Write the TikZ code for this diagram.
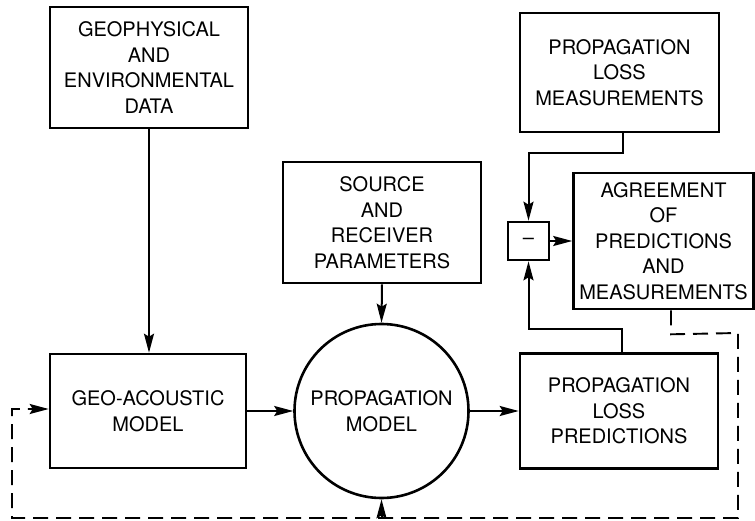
\documentclass[tikz,border=0pt]{standalone}
\usepackage{fontspec}
\setmainfont{TeX Gyre Heros}
\usetikzlibrary{arrows.meta,shapes.geometric}
\begin{document}
\begin{tikzpicture}[x=1pt,y=-1pt,
  box/.style={draw,line width=2.6pt,align=center,inner sep=0pt,
    font=\fontsize{20}{25.5}\selectfont},
  rnd/.style={draw,circle,line width=2.6pt,align=center,inner sep=0pt,
    font=\fontsize{20}{25.5}\selectfont},
  tip/.style={-{Stealth[length=19pt,width=10pt,inset=3pt]}},
  arr/.style={line width=2pt,tip},
  dsh/.style={line width=1.9pt,dash pattern=on 15pt off 8pt}]
\useasboundingbox (0,0) rectangle (755,521);
\node[box,minimum width=198pt,minimum height=121pt] (geo) at (149,67.5)
  {GEOPHYSICAL\\AND\\ENVIRONMENTAL\\DATA};
\node[box,minimum width=196pt,minimum height=114pt] (ga) at (148,411)
  {GEO-ACOUSTIC\\MODEL};
\node[rnd,minimum size=174pt] (prop) at (381.5,411) {PROPAGATION\\MODEL};
\node[box,minimum width=198pt,minimum height=121pt] (src) at (382,222.5)
  {SOURCE\\AND\\RECEIVER\\PARAMETERS};
\node[box,minimum width=198pt,minimum height=115pt] (pred) at (619,411)
  {PROPAGATION\\LOSS\\PREDICTIONS};
\node[box,minimum width=199pt,minimum height=119pt] (meas) at (619.5,72.5)
  {PROPAGATION\\LOSS\\MEASUREMENTS};
\node[box,minimum width=41pt,minimum height=38pt] (minus) at (528.5,241) {--};
\node[box,minimum width=180pt,minimum height=136pt] (agr) at (663.5,241)
  {AGREEMENT\\OF\\PREDICTIONS\\AND\\MEASUREMENTS};
% solid connectors
\draw[arr] (geo.south) -- (geo.south |- ga.north);
\draw[arr] (src.south) -- (prop.north);
\draw[arr] (ga.east) -- (prop.west);
\draw[arr] (prop.east) -- (pred.west);
\draw[arr] ([xshift=3pt]pred.north) -- ++(0,-23) -| (minus.south);
\draw[arr] ([xshift=3.5pt]meas.south) -- ++(0,20) -| (minus.north);
\draw[arr] (minus.east) -- (agr.west);
% dashed feedback
\coordinate (fb) at (prop.south |- 0,518);
\draw[dsh,tip]
  ([xshift=7.5pt]agr.south) -- ++(0,24) -- (738,333) -- (738,518)
  -- (12,518) -- (12,409) -- (ga.west |- 0,409);
\draw[arr] (fb) -- (prop.south);
\end{tikzpicture}
\end{document}
